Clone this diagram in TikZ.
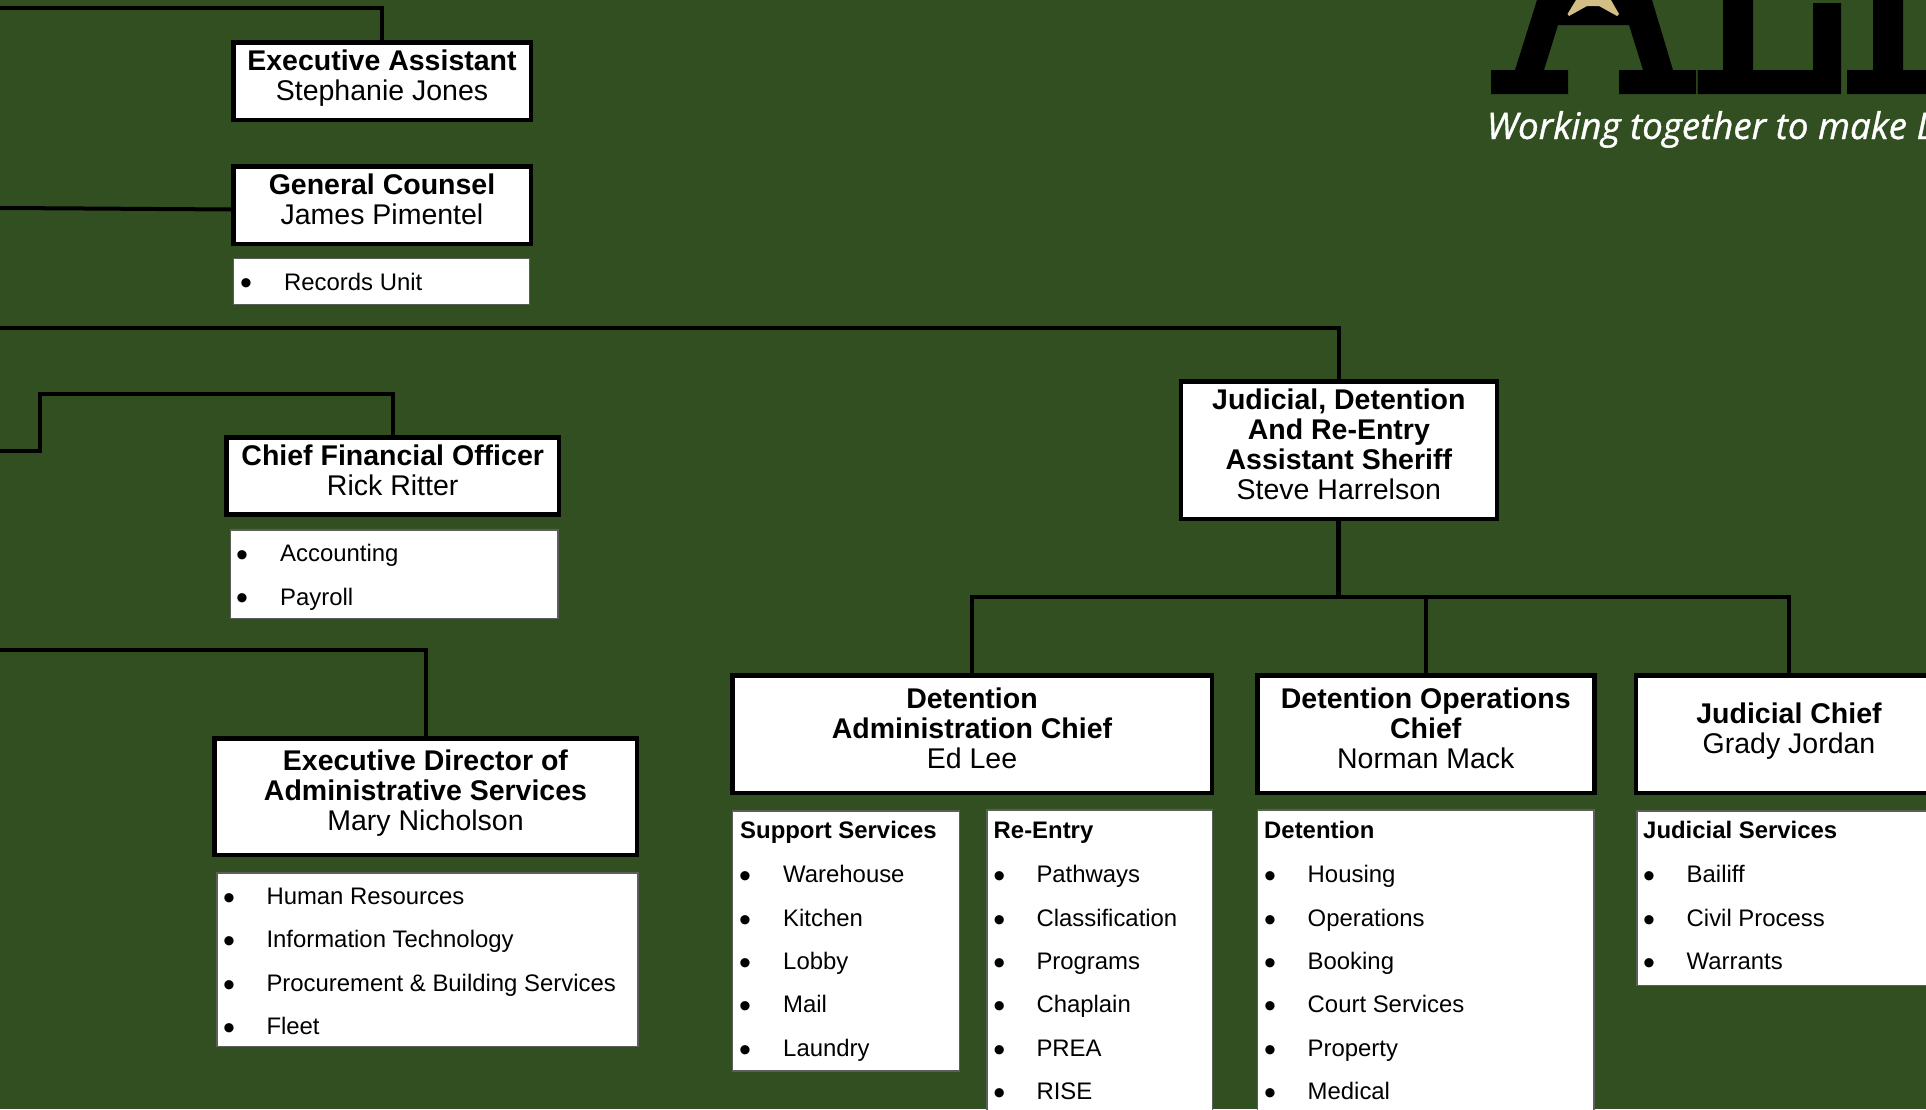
\documentclass[tikz,border=0pt]{standalone}
\usepackage{fontspec}
\setmainfont{Liberation Sans}
\newfontfamily\tagfont[FakeBold=1]{Open Sans}
\definecolor{bggreen}{HTML}{324F22}
\definecolor{listedge}{HTML}{5A5F58}
\definecolor{stargold}{HTML}{D3BF86}
\newcount\itc
\newcommand{\tline}[1]{\textbf{#1}}
% #1 = distance from the box centre up to the first baseline; #2 = the lines
\newcommand{\btxt}[2]{\raisebox{#1pt}[0pt][0pt]{\begin{tabular}[t]{@{}c@{}}#2\end{tabular}}}
\newcommand{\litem}[4]{%
  \global\advance\itc by 1
  \node[itembullet,name=b\the\itc] at (#1,#3+4.9) {•};
  \node[itemtext,name=t\the\itc] at (#2,#3) {#4};}
\newcommand{\lhead}[3]{%
  \global\advance\itc by 1
  \node[itemtext,name=h\the\itc] at (#1,#2) {\textbf{#3}};}
\tikzset{
  orgbox/.style={draw=black,fill=white,line width=4.5pt,inner sep=0pt,outer sep=0pt,
    font=\fontsize{28.5}{30}\selectfont},
  listbox/.style={draw=listedge,fill=white,line width=1.5pt,inner sep=0pt,outer sep=0pt},
  itemtext/.style={anchor=base west,inner sep=0pt,font=\fontsize{23.9}{26}\selectfont,text=black},
  itembullet/.style={anchor=base,inner sep=0pt,font=\fontsize{34}{36}\selectfont,text=black},
  wire/.style={draw=black,line width=4pt,line join=miter},
  trunk/.style={draw=black,line width=5pt},
  logoink/.style={fill=black,draw=none}
}
\begin{document}
\begin{tikzpicture}[x=1pt,y=-1pt]
\useasboundingbox (0,0) rectangle (1926,1109);
\clip (0,0) rectangle (1926,1109);
\fill[bggreen] (0,0) rectangle (1926,1109);

% logo, cut by the picture's top and right edges
\fill[logoink] (1491,70) -- (1515,70) -- (1537,0) -- (1652,0) -- (1673,70) -- (1696,70) -- (1696,94)
  -- (1619,94) -- (1619,70) -- (1643,70) -- (1629,25) -- (1558,25) -- (1544,70) -- (1568,70) -- (1568,94) -- (1491,94) -- cycle;
\fill[logoink] (1697.5,70) -- (1723,70) -- (1723,0) -- (1753,0) -- (1753,70) -- (1813,70) -- (1813,3) -- (1841,3) -- (1841,94) -- (1697.5,94) -- cycle;
\fill[logoink] (1847,70) -- (1873,70) -- (1873,0) -- (1903,0) -- (1903,70) -- (1926,70) -- (1926,94) -- (1847,94) -- cycle;
\fill[stargold] (1576,0) -- (1567.5,14) -- (1569,16) -- (1587,6) -- (1599,6) -- (1617,16) -- (1619,14) -- (1611,0) -- cycle;
\node[anchor=base west,inner sep=0pt,text=white,font=\tagfont\itshape\fontsize{36.7}{40}\selectfont] (tag) at (1486.5,139) {Working together to make L};

% executive boxes
\node[orgbox,minimum width=297.5pt,minimum height=77.5pt] (ea) at (382,81) {\btxt{11}{\tline{Executive Assistant}\\Stephanie Jones}};
\node[orgbox,minimum width=297.5pt,minimum height=77.5pt] (gc) at (382,205) {\btxt{10.6}{\tline{General Counsel}\\James Pimentel}};
\node[orgbox,minimum width=332.9pt,minimum height=77.2pt] (cfo) at (392.7,475.85) {\btxt{10.5}{\tline{Chief Financial Officer}\\Rick Ritter}};
\node[orgbox,minimum width=422.5pt,minimum height=116.5pt] (ed) at (425.5,796.5) {\btxt{26.5}{\tline{Executive Director of}\\\tline{Administrative Services}\\Mary Nicholson}};
\node[orgbox,minimum width=315.8pt,minimum height=137.5pt] (jd) at (1338.85,450) {\btxt{40.7}{\tline{Judicial, Detention}\\\tline{And Re-Entry}\\\tline{Assistant Sheriff}\\Steve Harrelson}};
\node[orgbox,minimum width=479.5pt,minimum height=117.5pt] (da) at (972,734) {\btxt{26}{\tline{Detention}\\\tline{Administration Chief}\\Ed Lee}};
\node[orgbox,minimum width=337pt,minimum height=117.5pt] (dop) at (1425.75,734) {\btxt{26}{\tline{Detention Operations}\\\tline{Chief}\\Norman Mack}};
\node[orgbox,minimum width=306.1pt,minimum height=117.5pt] (jc) at (1789,734) {\btxt{10.3}{\tline{Judicial Chief}\\Grady Jordan}};

% list boxes
\node[listbox,minimum width=296pt,minimum height=46pt] (rec) at (381.25,281.25) {};
\node[listbox,minimum width=327.6pt,minimum height=88.5pt] (acc) at (394.15,574) {};
\node[listbox,minimum width=421.2pt,minimum height=173.5pt] (hr) at (427.35,959.5) {};
\node[listbox,minimum width=226.8pt,minimum height=260.2pt] (sup) at (845.85,940.85) {};
\node[listbox,minimum width=225.5pt,minimum height=330pt] (re) at (1099.5,975) {};
\node[listbox,minimum width=336.7pt,minimum height=330pt] (det) at (1425.7,975) {};
\node[listbox,minimum width=362.5pt,minimum height=174.5pt] (js) at (1818,898) {};

\litem{246}{284}{290}{Records Unit}

\litem{242}{280}{561.5}{Accounting}
\litem{242}{280}{605}{Payroll}

\litem{229}{266.3}{904.3}{Human Resources}
\litem{229}{266.3}{947.7}{Information Technology}
\litem{229}{266.3}{991.1}{Procurement \& Building Services}
\litem{229}{266.3}{1034.5}{Fleet}

\lhead{740}{838.5}{Support Services}
\litem{745}{783}{882.7}{Warehouse}
\litem{745}{783}{926.1}{Kitchen}
\litem{745}{783}{969.5}{Lobby}
\litem{745}{783}{1012.9}{Mail}
\litem{745}{783}{1056.3}{Laundry}

\lhead{993.5}{838.5}{Re-Entry}
\litem{999.3}{1036.3}{882.7}{Pathways}
\litem{999.3}{1036.3}{926.1}{Classification}
\litem{999.3}{1036.3}{969.5}{Programs}
\litem{999.3}{1036.3}{1012.9}{Chaplain}
\litem{999.3}{1036.3}{1056.3}{PREA}
\litem{999.3}{1036.3}{1099.7}{RISE}

\lhead{1264}{838.5}{Detention}
\litem{1270}{1307.5}{882.7}{Housing}
\litem{1270}{1307.5}{926.1}{Operations}
\litem{1270}{1307.5}{969.5}{Booking}
\litem{1270}{1307.5}{1012.9}{Court Services}
\litem{1270}{1307.5}{1056.3}{Property}
\litem{1270}{1307.5}{1099.7}{Medical}

\lhead{1643}{838.5}{Judicial Services}
\litem{1649}{1686.5}{882.7}{Bailiff}
\litem{1649}{1686.5}{926.1}{Civil Process}
\litem{1649}{1686.5}{969.5}{Warrants}

% free ends of the connectors, at the picture's left edge
\coordinate (eaFree) at (0,8);
\coordinate (gcFree) at (0,208);
\coordinate (gcBend) at (55,208.3);
\coordinate (jdFree) at (0,328);
\coordinate (cfoFree) at (0,451);
\coordinate (cfoBend) at (40,394);
\coordinate (edFree) at (0,650);
\coordinate (bus) at (1338.85,597.3);

\draw[wire] (eaFree) -| (ea.north);
\draw[wire] (gcFree) -- (gcBend) -- ([yshift=-4.5pt]gc.west);
\draw[wire] (jdFree) -| (jd.north);
\draw[wire] (cfoFree) -| (cfoBend) -| (cfo.north);
\draw[wire] (edFree) -| (ed.north);
\draw[trunk] (jd.south) -- (bus);
\draw[wire] (da.north) |- (bus);
\draw[wire] (dop.north) |- (bus);
\draw[wire] (jc.north) |- (bus);
\end{tikzpicture}
\end{document}
